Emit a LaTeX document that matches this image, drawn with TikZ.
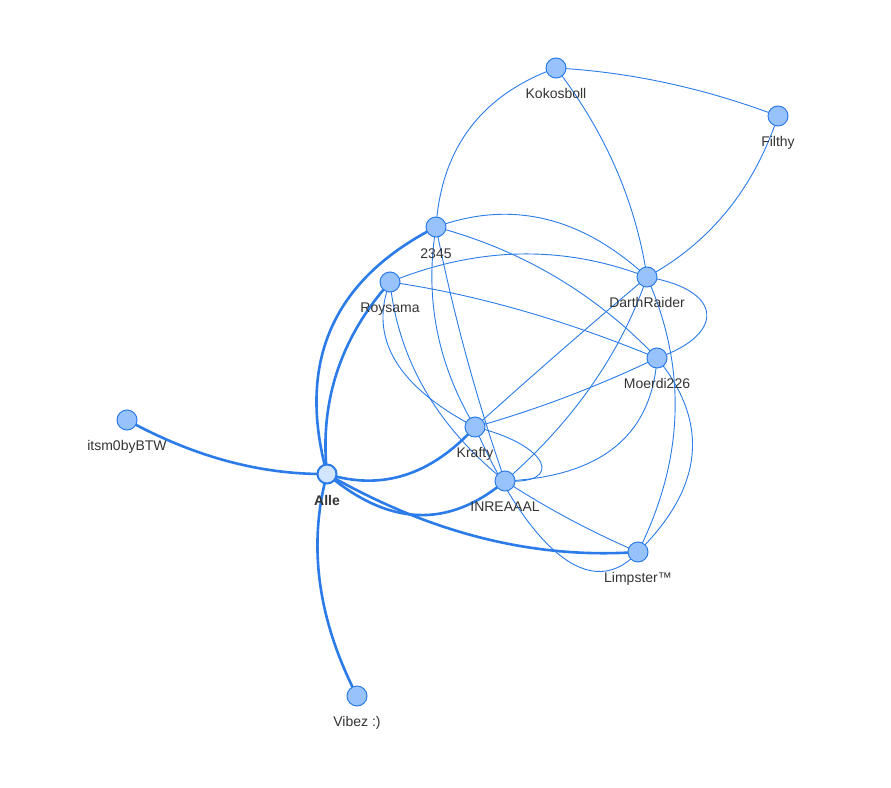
\documentclass[tikz,border=0pt]{standalone}
\usepackage{fontspec}
\setmainfont{Liberation Sans}
\usetikzlibrary{calc}
\definecolor{edgec}{HTML}{2B7CE9}
\definecolor{nfill}{HTML}{97C2FC}
\definecolor{afill}{HTML}{D2E5FF}
\definecolor{txtc}{HTML}{343434}
\pgfdeclarelayer{bg}
\pgfsetlayers{bg,main}
\newcommand\qedge[4]{\draw[#1] (#2.center) .. controls ($(#2.center)!0.6667!(#3)$) and ($(#4.center)!0.6667!(#3)$) .. (#4.center);}
\tikzset{
  vnode/.style={circle, draw=edgec, line width=1pt, fill=nfill, minimum size=20pt, inner sep=0pt},
  anode/.style={vnode, fill=afill, line width=2pt, minimum size=19pt},
  lbl/.style={font=\fontsize{14}{16}\selectfont, text=txtc, anchor=base, inner sep=0pt},
  ledge/.style={draw=edgec, line width=0.9pt},
  hedge/.style={draw=edgec, line width=2.6pt},
}
\begin{document}
\begin{tikzpicture}[x=1pt,y=-1pt]
\useasboundingbox (0,0) rectangle (891,787);
% nodes
\node[vnode] (kok) at (556,68) {};
\node[vnode] (fil) at (778,116) {};
\node[vnode] (t2345) at (436,227) {};
\node[vnode] (roy) at (390,282) {};
\node[vnode] (dar) at (647,277) {};
\node[vnode] (moe) at (657,358) {};
\node[vnode] (its) at (127,420) {};
\node[vnode] (kra) at (475,427) {};
\node[anode] (alle) at (327,474) {};
\node[vnode] (inr) at (505,481) {};
\node[vnode] (lim) at (638,552) {};
\node[vnode] (vib) at (357,696) {};
% labels
\node[lbl] (kok-l) at (556,98) {Kokosboll};
\node[lbl] (fil-l) at (778,146) {Filthy};
\node[lbl] (t2345-l) at (436,258) {2345};
\node[lbl] (roy-l) at (390,312) {Roysama};
\node[lbl] (dar-l) at (647,307) {DarthRaider};
\node[lbl] (moe-l) at (657,388) {Moerdi226};
\node[lbl] (its-l) at (127,450) {itsm0byBTW};
\node[lbl] (kra-l) at (475,457) {Krafty};
\node[lbl, font=\fontsize{14}{16}\selectfont\bfseries] (alle-l) at (327,505) {Alle};
\node[lbl] (inr-l) at (505,511) {INREAAAL};
\node[lbl] (lim-l) at (638,582) {Limpster™};
\node[lbl] (vib-l) at (357,726) {Vibez :)};
\begin{pgfonlayer}{bg}
\fill[white] (0,0) rectangle (891,787);
% thin edges
\qedge{ledge}{kok}{667,74}{fil}
\qedge{ledge}{kok}{444,108.5}{t2345}
\qedge{ledge}{kok}{630,164}{dar}
\qedge{ledge}{fil}{741.5,225.5}{dar}
\qedge{ledge}{t2345}{548.5,186}{dar}
\qedge{ledge}{t2345}{565,261.5}{moe}
\qedge{ledge}{t2345}{418.5,333}{kra}
\qedge{ledge}{t2345}{461.5,356}{inr}
\qedge{ledge}{roy}{521.5,228.5}{dar}
\qedge{ledge}{roy}{516.5,300}{moe}
\qedge{ledge}{roy}{357.5,365.5}{kra}
\qedge{ledge}{roy}{402.5,398.5}{inr}
\qedge{ledge}{dar}{565,346}{kra}
\qedge{ledge}{dar}{608,391}{inr}
\draw[ledge] (dar.center) .. controls (725,290) and (725,335) .. (moe.center);
\qedge{ledge}{dar}{707.5,413.5}{lim}
\qedge{ledge}{moe}{566,401.5}{kra}
\qedge{ledge}{moe}{649,474.5}{inr}
\qedge{ledge}{moe}{736.5,455}{lim}
\draw[ledge] (kra.center) .. controls (550,445) and (565,485) .. (inr.center);
\draw[ledge] (kra.center) .. controls (520,530) and (585,610) .. (lim.center);
\qedge{ledge}{inr}{568,522}{lim}
% thick edges
\qedge{hedge}{alle}{227,475}{its}
\qedge{hedge}{alle}{298,581}{vib}
\qedge{hedge}{t2345}{281,306}{alle}
\qedge{hedge}{roy}{315.5,366}{alle}
\qedge{hedge}{alle}{409,499.5}{kra}
\qedge{hedge}{alle}{420,552.5}{inr}
\qedge{hedge}{alle}{482,563}{lim}
\end{pgfonlayer}
\end{tikzpicture}
\end{document}
